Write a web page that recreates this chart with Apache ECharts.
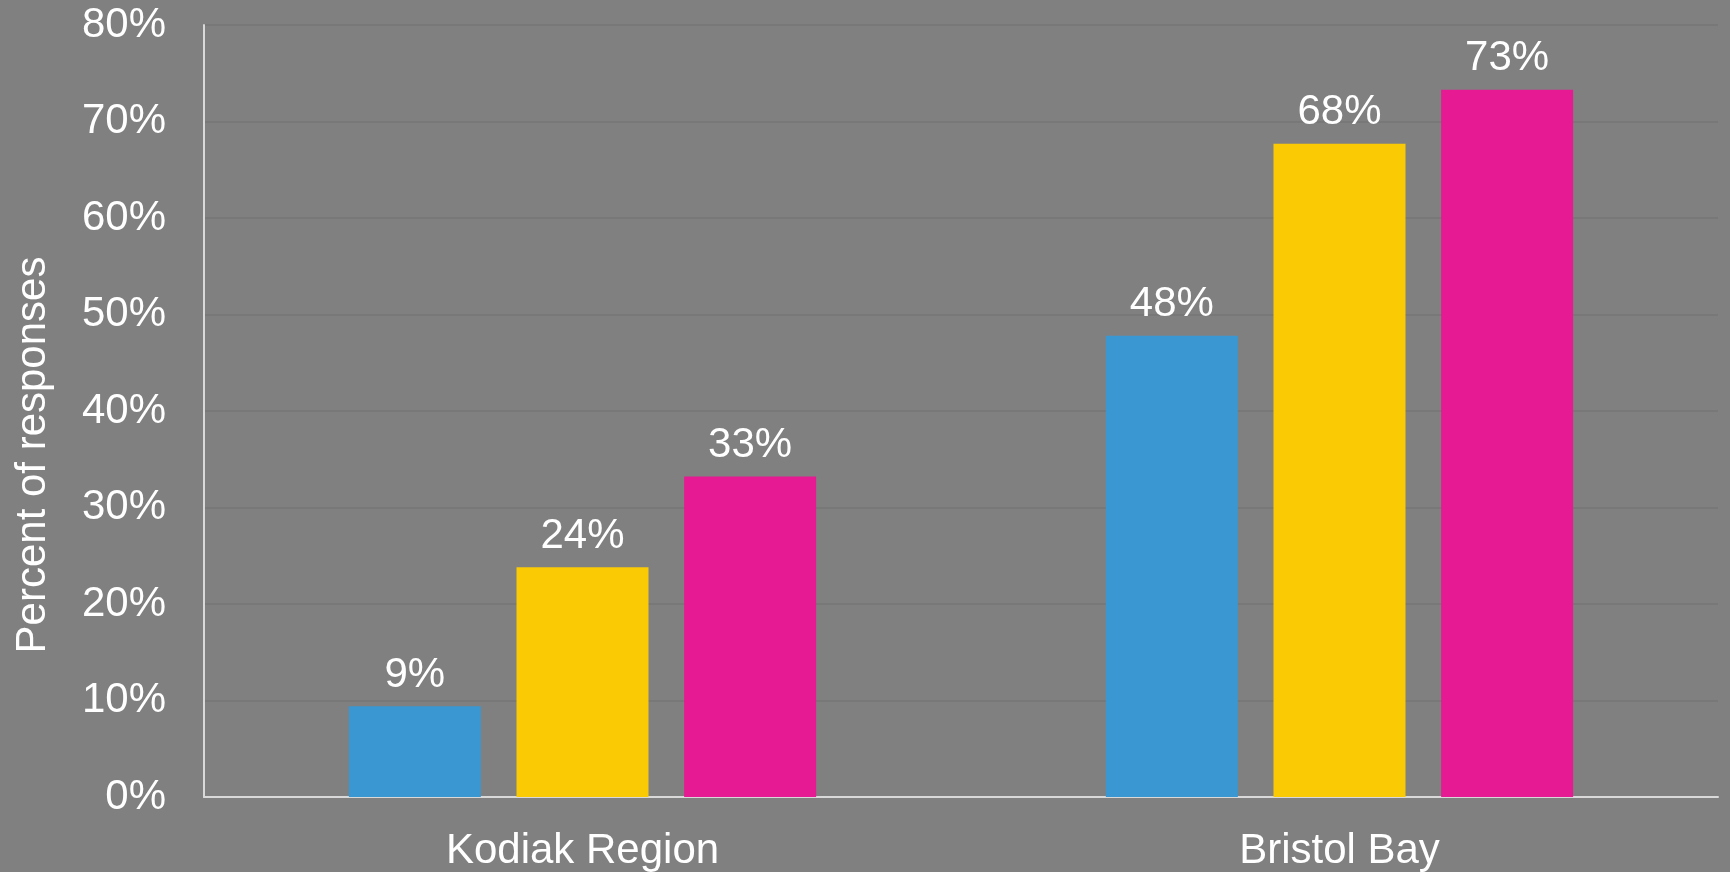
<!DOCTYPE html>
<html>
<head>
<meta charset="utf-8">
<script src="https://cdn.jsdelivr.net/npm/echarts@6/dist/echarts.min.js"></script>
<style>
html,body{margin:0;padding:0;background:#808080;}
#chart{width:1730px;height:872px;}
</style>
</head>
<body>
<div id="chart"></div>
<script>
const categories = ['Kodiak Region', 'Bristol Bay'];
const seriesA = [9.4, 47.8];
const seriesB = [23.8, 67.7];
const seriesC = [33.2, 73.3];
const yTicks = [0, 10, 20, 30, 40, 50, 60, 70, 80];
const colors = ['#3A97D2', '#FACB05', '#E61A93'];

const FONT = '"Liberation Sans", Arial, sans-serif';
const chart = echarts.init(document.getElementById('chart'));
const mk = (name, data, color) => ({
  name, type: 'bar', data, barWidth: 132, barGap: '27%',
  itemStyle: { color },
  label: {
    show: true, position: 'top', distance: 10,
    color: '#ffffff', fontSize: 42, fontFamily: FONT,
    formatter: p => Math.round(p.value) + '%'
  }
});
chart.setOption({
  backgroundColor: '#808080',
  animation: false,
  grid: { left: 204, right: 12, top: 25, bottom: 75, containLabel: false },
  xAxis: {
    type: 'category', data: categories,
    axisLine: { lineStyle: { color: '#d9d9d9', width: 2 } },
    axisTick: { show: false },
    axisLabel: { color: '#ffffff', fontSize: 42, fontFamily: FONT, margin: 33 }
  },
  yAxis: {
    type: 'value', min: yTicks[0], max: yTicks[yTicks.length - 1], interval: 10,
    name: 'Percent of responses', nameLocation: 'middle', nameGap: 150,
    nameTextStyle: { color: '#ffffff', fontSize: 42, fontFamily: FONT, padding: [0, 88, 0, 0] },
    axisLine: { show: true, lineStyle: { color: '#d9d9d9', width: 2 } },
    axisTick: { show: false },
    splitLine: { lineStyle: { color: '#767676', width: 1.5 } },
    axisLabel: { color: '#ffffff', fontSize: 42, fontFamily: FONT, margin: 38, padding: [6, 0, 0, 0], formatter: v => v + '%' }
  },
  series: [
    mk('Series 1', seriesA, colors[0]),
    mk('Series 2', seriesB, colors[1]),
    mk('Series 3', seriesC, colors[2])
  ]
});
</script>
</body>
</html>
